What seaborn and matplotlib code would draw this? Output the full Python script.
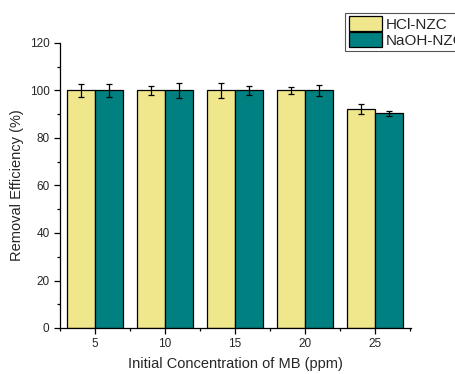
import matplotlib
matplotlib.use("Agg")
import matplotlib.pyplot as plt
import seaborn as sns
import pandas as pd
import numpy as np
from matplotlib.ticker import MultipleLocator
from matplotlib.patches import Patch

concentrations = ["5", "10", "15", "20", "25"]
hcl_values = [100.0, 100.0, 100.0, 100.0, 92.2]
naoh_values = [100.0, 100.0, 100.0, 100.0, 90.4]
hcl_err = [2.7, 1.7, 3.0, 1.5, 2.0]
naoh_err = [2.7, 3.3, 1.9, 2.2, 1.1]
series = ["HCl-NZC", "NaOH-NZC"]
colors = ["#F0E68C", "#008080"]

sns.set_style("ticks")
plt.rcParams["font.family"] = ["Liberation Sans", "DejaVu Sans"]

df = pd.DataFrame({
    "conc": concentrations * 2,
    "value": hcl_values + naoh_values,
    "series": [series[0]] * 5 + [series[1]] * 5,
})

fig = plt.figure(figsize=(4.56, 3.74), dpi=100)
ax = fig.add_axes([60/456, 1-328/374, (411-60)/456, (328-43)/374])

sns.barplot(data=df, x="conc", y="value", hue="series", order=concentrations,
            hue_order=series, palette=colors, saturation=1, errorbar=None, width=0.8,
            edgecolor="black", linewidth=0.9, ax=ax, legend=False)

# error bars
bars = [p for p in ax.patches]
errs = hcl_err + naoh_err
vals = hcl_values + naoh_values
for p, v, e in zip(bars[:10], vals, errs):
    xc = p.get_x() + p.get_width() / 2
    ax.errorbar(xc, v, yerr=e, fmt="none", ecolor="black", elinewidth=0.9,
                capsize=2.5, capthick=0.9)

ax.set_xlim(-0.48, 4.51)
ax.set_ylim(0, 120)
ax.yaxis.set_major_locator(MultipleLocator(20))
ax.yaxis.set_minor_locator(MultipleLocator(10))
ax.set_xticks(np.arange(5))
ax.set_xticks(list(np.arange(0.5, 5.0, 1.0)) + [-0.5], minor=True)
ax.tick_params(axis="both", which="major", direction="out", length=4, width=0.9,
               labelsize=8.5, color="black")
ax.tick_params(axis="both", which="minor", direction="out", length=2.5, width=0.9,
               color="black")
for s in ["top", "right"]:
    ax.spines[s].set_visible(False)
for s in ["left", "bottom"]:
    ax.spines[s].set_linewidth(0.9)
    ax.spines[s].set_color("black")

ax.set_xlabel("Initial Concentration of MB (ppm)", fontsize=10.5, labelpad=5)
ax.set_ylabel("Removal Efficiency (%)", fontsize=10.5, labelpad=4)

handles = [Patch(facecolor=c, edgecolor="black", linewidth=0.9) for c in colors]
leg = fig.legend(handles, series, loc="upper left",
                 bbox_to_anchor=(345/456, 1-12.5/374), fontsize=11,
                 fancybox=False, framealpha=1, edgecolor="#555555",
                 handlelength=2.15, handleheight=1.12, labelspacing=0.0,
                 handletextpad=0.25, borderpad=0.25, borderaxespad=0)
leg.get_frame().set_linewidth(0.8)

fig.savefig("out.png", dpi=100)
